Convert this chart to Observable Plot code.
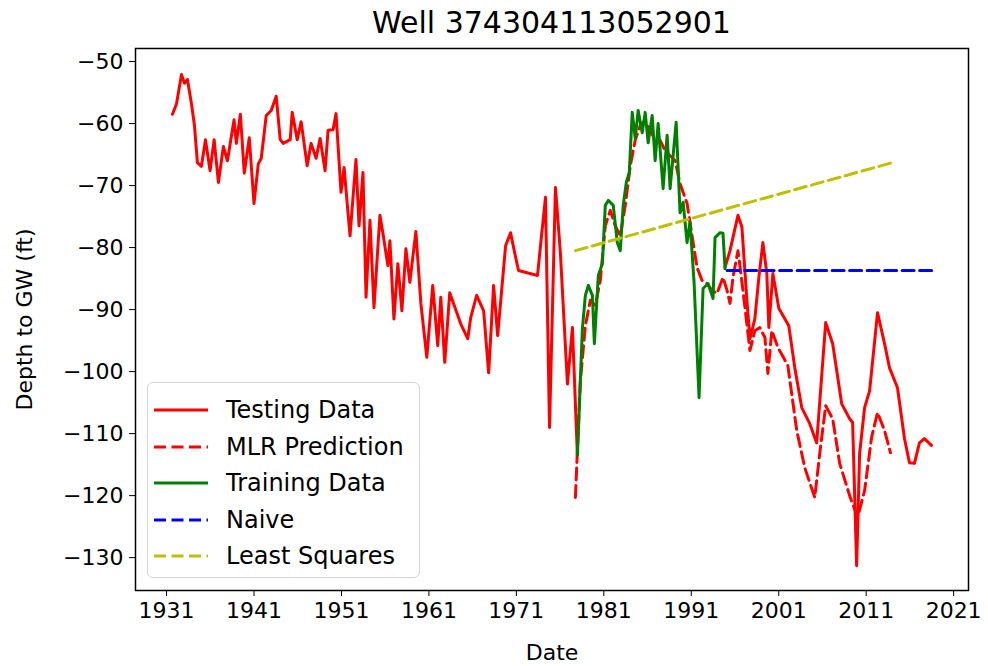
<!DOCTYPE html>
<html>
<head>
<meta charset="utf-8">
<script src="https://cdn.jsdelivr.net/npm/d3@7"></script>
<script src="https://cdn.jsdelivr.net/npm/@observablehq/plot@0.6"></script>
<style>
  body { margin: 0; background: #fff; font-family: "DejaVu Sans", sans-serif; color: #000; }
  #wrap { position: relative; width: 988px; height: 666px; overflow: hidden; }
  #title { height: 40px; line-height: 46px; margin-left: 135px; width: 833px; text-align: center; font-size: 30px; }
  #legend { position: absolute; left: 147px; top: 382px; width: 273px; height: 196px; box-sizing: border-box;
            border: 1.5px solid #d4d4d4; border-radius: 6px; background: rgba(255,255,255,0.85); }
  .row { position: absolute; left: 0; height: 36px; display: flex; align-items: center; font-size: 24px; white-space: nowrap; }
  .row svg { margin-left: 5px; margin-right: 17px; }
</style>
</head>
<body>
<div id="wrap">
  <div id="title">Well 374304113052901</div>
  <div id="chart"></div>
  <div id="legend"></div>
</div>
<script>
// Observed depth to groundwater before the training window (testing data)
const testingEarlyYear = [1931.68, 1932.14, 1932.71, 1933.05, 1933.39, 1933.85, 1934.19, 1934.53, 1934.99, 1935.45,
  1935.98, 1936.44, 1936.93, 1937.50, 1937.96, 1938.72, 1938.98, 1939.44, 1939.89, 1940.46,
  1941.00, 1941.49, 1941.83, 1942.40, 1942.97, 1943.54, 1944.00, 1944.34, 1945.14, 1945.37,
  1945.94, 1946.39, 1947.08, 1947.53, 1948.10, 1948.56, 1949.13, 1949.47, 1950.04, 1950.38,
  1950.95, 1951.30, 1951.98, 1952.66, 1953.01, 1953.46, 1953.81, 1954.26, 1954.72, 1955.40,
  1955.74, 1956.31, 1956.54, 1957.00, 1957.45, 1957.91, 1958.37, 1958.82, 1959.51, 1960.08,
  1960.76, 1961.44, 1962.01, 1962.36, 1962.81, 1963.38, 1964.64, 1965.44, 1965.78, 1966.46,
  1967.26, 1967.83, 1968.40, 1968.86, 1969.77, 1970.34, 1970.80, 1971.25, 1973.42, 1973.76,
  1974.33, 1974.79, 1975.47, 1976.04, 1976.84, 1977.41, 1977.98];
const testingEarlyDepth = [-58.5, -56.8, -52.1, -53.5, -52.9, -56.8, -60.3, -66.3, -66.9, -62.6,
  -67.6, -62.6, -69.5, -63.7, -66.0, -59.4, -63.2, -58.5, -68.0, -62.3,
  -72.9, -66.5, -65.6, -58.7, -57.9, -55.6, -62.6, -63.2, -62.6, -58.2,
  -62.6, -59.7, -66.8, -63.2, -65.6, -62.4, -67.6, -61.1, -61.0, -58.4,
  -71.1, -67.1, -78.1, -65.8, -76.5, -67.9, -88.0, -75.6, -89.7, -74.8,
  -77.7, -82.9, -78.9, -91.5, -82.6, -90.2, -80.2, -85.6, -77.4, -89.0,
  -97.7, -86.1, -95.8, -88.0, -98.5, -87.3, -92.3, -94.7, -91.3, -87.7,
  -90.2, -100.2, -86.1, -94.2, -79.7, -77.6, -80.8, -83.7, -84.5, -79.7,
  -71.9, -109.0, -70.3, -81.0, -102.0, -92.9, -113.5];

// Observed depth to groundwater after the training window (testing data)
const testingLateYear = [1994.86, 1995.43, 1996.34, 1996.79, 1997.36, 1997.71, 1998.27, 1998.73, 1999.19, 1999.64,
  1999.87, 2000.33, 2001.01, 2002.15, 2002.84, 2003.63, 2004.55, 2005.34, 2006.37, 2007.17,
  2008.20, 2009.11, 2009.45, 2009.91, 2010.25, 2010.82, 2011.39, 2012.30, 2013.10, 2013.67,
  2014.58, 2015.38, 2015.95, 2016.52, 2017.09, 2017.66, 2018.46];
const testingLateDepth = [-83.2, -80.5, -74.8, -76.7, -88.5, -94.7, -91.5, -84.8, -79.2, -84.2,
  -92.9, -84.2, -89.8, -92.6, -99.4, -105.8, -108.4, -111.5, -92.1, -95.5,
  -105.2, -107.6, -108.2, -131.3, -113.2, -105.8, -103.1, -90.5, -95.5, -99.4,
  -102.6, -110.8, -114.7, -114.8, -111.5, -110.8, -111.9];

// Multiple linear regression prediction
const mlrYear = [1977.75, 1978.32, 1978.89, 1979.46, 1980.03, 1980.60, 1981.17, 1981.74, 1982.31, 1982.88,
  1983.45, 1984.03, 1984.59, 1985.16, 1985.73, 1986.30, 1986.87, 1987.44, 1988.01, 1988.58,
  1989.16, 1989.72, 1990.52, 1991.09, 1991.66, 1992.23, 1992.80, 1993.37, 1993.94, 1994.63,
  1995.09, 1995.43, 1995.77, 1996.34, 1996.91, 1997.71, 1998.27, 1998.84, 1999.42, 1999.76,
  2000.21, 2000.90, 2002.04, 2003.06, 2003.98, 2005.12, 2005.69, 2006.37, 2007.17, 2007.97,
  2009.11, 2010.02, 2010.82, 2011.62, 2012.30, 2013.10, 2013.78];
const mlrDepth = [-120.3, -101.5, -92.6, -88.5, -89.3, -85.3, -76.5, -74.0, -76.5, -78.1,
  -73.2, -66.8, -62.7, -60.3, -59.5, -61.1, -62.7, -62.7, -64.4, -65.2,
  -66.0, -69.7, -72.9, -78.1, -83.2, -85.3, -85.8, -86.9, -87.4, -84.8,
  -86.9, -89.0, -84.8, -80.5, -86.9, -96.6, -93.4, -92.9, -94.5, -100.3,
  -93.4, -96.1, -99.0, -109.5, -115.5, -120.3, -113.2, -105.5, -107.6, -114.8,
  -120.0, -123.5, -119.2, -110.6, -106.6, -109.5, -113.1];

// Training window observations
const trainingYear = [1977.98, 1978.55, 1978.89, 1979.23, 1979.69, 1979.92, 1980.37, 1980.83, 1981.17, 1981.51,
  1982.08, 1982.54, 1982.88, 1983.22, 1983.57, 1983.91, 1984.25, 1984.59, 1984.93, 1985.39,
  1985.73, 1986.07, 1986.53, 1986.87, 1987.21, 1987.78, 1988.24, 1988.58, 1988.92, 1989.27,
  1989.72, 1990.07, 1990.52, 1990.86, 1991.32, 1991.89, 1992.35, 1992.92, 1993.49, 1993.72,
  1994.29, 1994.63, 1994.86];
const trainingDepth = [-113.5, -93.1, -87.7, -86.1, -87.7, -95.5, -84.5, -82.6, -73.2, -72.4,
  -73.2, -79.2, -80.5, -73.2, -69.5, -67.9, -58.2, -62.4, -57.9, -61.5,
  -58.2, -63.1, -58.7, -66.0, -60.0, -70.5, -61.9, -70.5, -65.2, -59.8,
  -74.4, -72.7, -79.2, -75.9, -85.6, -104.2, -86.6, -85.8, -88.2, -78.4,
  -77.6, -77.7, -83.4];

// Naive forecast: last training value held flat
const naiveYear = [1995.1, 2018.5];
const naiveDepth = [-83.7, -83.7];

// Least-squares trend fitted over the training window
const lsqYear = [1977.75, 2014.0];
const lsqDepth = [-80.5, -66.3];

// Axis ticks
const xTicks = [1931, 1941, 1951, 1961, 1971, 1981, 1991, 2001, 2011, 2021];
const yTicks = [-130, -120, -110, -100, -90, -80, -70, -60, -50];

const rows = (xs, ys) => xs.map((x, i) => ({year: x, depth: ys[i]}));

const series = [
  {name: "Testing Data", color: "red", dash: null},
  {name: "MLR Prediction", color: "red", dash: "12,5.5"},
  {name: "Training Data", color: "green", dash: null},
  {name: "Naive", color: "#0000ff", dash: "12,5.5"},
  {name: "Least Squares", color: "#bfbf00", dash: "12,5.5"}
];

const lw = 3;
const chart = Plot.plot({
  width: 988,
  height: 626,
  marginTop: 8,
  marginBottom: 76,
  marginLeft: 135,
  marginRight: 20,
  style: {fontFamily: "DejaVu Sans", color: "#000", background: "#fff"},
  x: {type: "linear", domain: [1927.45, 2022.7]},
  y: {type: "linear", domain: [-135.3, -47.9]},
  marks: [
    Plot.line(rows(testingEarlyYear, testingEarlyDepth), {x: "year", y: "depth", stroke: series[0].color, strokeWidth: lw}),
    Plot.line(rows(testingLateYear, testingLateDepth), {x: "year", y: "depth", stroke: series[0].color, strokeWidth: lw}),
    Plot.line(rows(mlrYear, mlrDepth), {x: "year", y: "depth", stroke: series[1].color, strokeWidth: lw, strokeDasharray: series[1].dash}),
    Plot.line(rows(trainingYear, trainingDepth), {x: "year", y: "depth", stroke: series[2].color, strokeWidth: lw}),
    Plot.line(rows(naiveYear, naiveDepth), {x: "year", y: "depth", stroke: series[3].color, strokeWidth: lw, strokeDasharray: series[3].dash}),
    Plot.line(rows(lsqYear, lsqDepth), {x: "year", y: "depth", stroke: series[4].color, strokeWidth: lw, strokeDasharray: series[4].dash}),
    Plot.frame({stroke: "#000", strokeWidth: 1.5}),
    Plot.axisX({ticks: xTicks, tickFormat: d => String(d), tickSize: 6, tickPadding: 6, fontSize: 22,
      label: "Date", labelAnchor: "center", labelArrow: "none", labelOffset: 69}),
    Plot.axisY({ticks: yTicks, tickSize: 6, tickPadding: 6, fontSize: 22,
      label: "Depth to GW (ft)", labelAnchor: "center", labelArrow: "none", labelOffset: 119})
  ]
});
document.getElementById("chart").appendChild(chart);

// Legend box inside the lower-left of the plot area
const legend = document.getElementById("legend");
series.forEach((s, i) => {
  const row = document.createElement("div");
  row.className = "row";
  row.style.top = (9 + i * 36.6) + "px";
  const sw = `<svg width="56" height="10"><line x1="1" y1="5" x2="55" y2="5" stroke="${s.color}" stroke-width="${lw}" ${s.dash ? `stroke-dasharray="${s.dash}"` : ""}/></svg>`;
  row.innerHTML = sw + `<span>${s.name}</span>`;
  legend.appendChild(row);
});
</script>
</body>
</html>
